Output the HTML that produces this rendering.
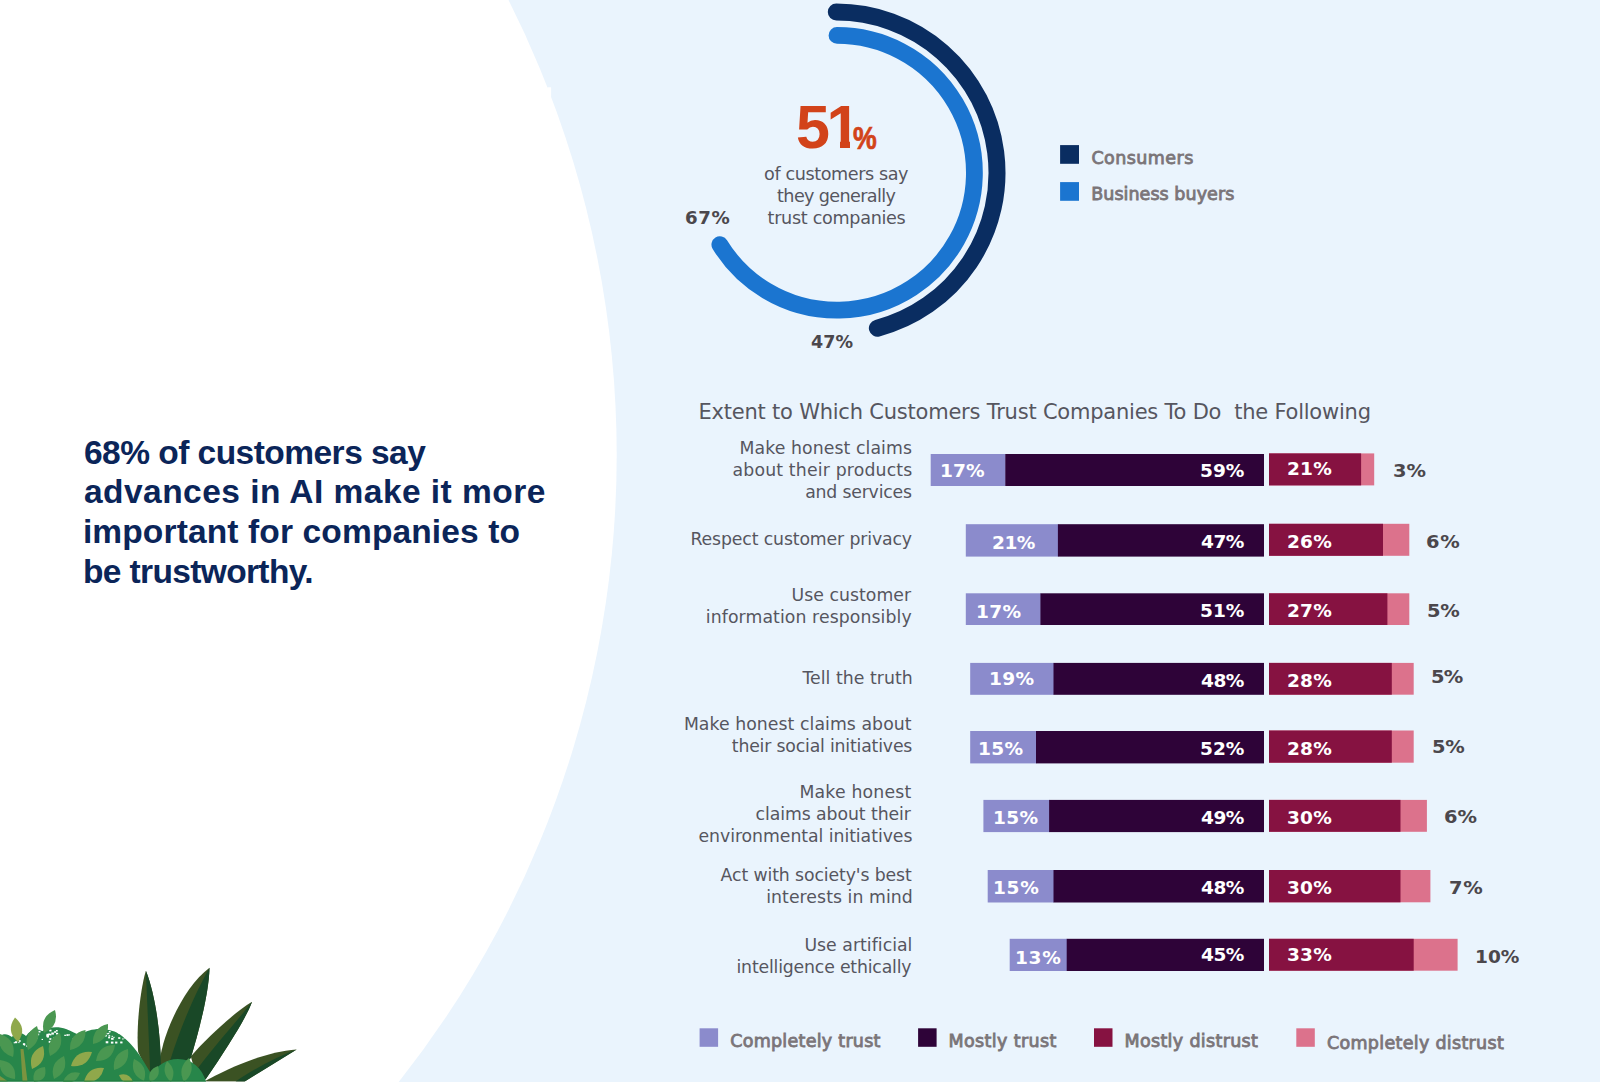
<!DOCTYPE html>
<html lang="en"><head><meta charset="utf-8"><title>Customer trust</title>
<style>
html,body{margin:0;padding:0}
body{width:1600px;height:1083px;position:relative;overflow:hidden;background:#eaf4fd;font-family:"Liberation Sans",sans-serif}
svg{position:absolute;left:0;top:0}
.t{position:absolute;white-space:pre;line-height:1;margin:0}
.d{font-family:"DejaVu Sans","Liberation Sans",sans-serif}
h1,section,footer{margin:0;padding:0;font:inherit;display:block}
h1 span{display:block}
</style></head><body>
<svg width="1600" height="1083" viewBox="0 0 1600 1083">
<circle cx="-394.1" cy="455" r="1010.8" fill="#fff"/>
<rect x="0" y="1082" width="1600" height="1" fill="#fff"/>
<rect x="547.3" y="87.3" width="3.8" height="9.6" fill="#fff"/>
<path d="M837.00 35.40 A137.4 137.4 0 1 1 719.85 244.59" fill="none" stroke="#1b75d0" stroke-width="16.8" stroke-linecap="round"/>
<path d="M836.30 12.10 A160.7 160.7 0 0 1 877.35 328.17" fill="none" stroke="#0a2d61" stroke-width="17" stroke-linecap="round"/>
<rect x="1060.1" y="145.1" width="18.9" height="18.7" fill="#0a2d61"/>
<rect x="1060.1" y="182.1" width="18.9" height="18.7" fill="#1b75d0"/>
<rect x="930.7" y="454" width="75.0" height="32.0" fill="#8b8bcc"/>
<rect x="1005.3" y="454" width="258.7" height="32.0" fill="#2e0338"/>
<rect x="1269" y="453.4" width="105.2" height="32.0" fill="#dc728c"/>
<rect x="1269" y="453.4" width="92.1" height="32.0" fill="#861241"/>
<rect x="965.8" y="524.2" width="92.6" height="32.4" fill="#8b8bcc"/>
<rect x="1057.9" y="524.2" width="206.1" height="32.4" fill="#2e0338"/>
<rect x="1269" y="523.8" width="140.3" height="32.0" fill="#dc728c"/>
<rect x="1269" y="523.8" width="114.0" height="32.0" fill="#861241"/>
<rect x="965.8" y="593.3" width="75.0" height="31.7" fill="#8b8bcc"/>
<rect x="1040.4" y="593.3" width="223.6" height="31.7" fill="#2e0338"/>
<rect x="1269" y="593.3" width="140.3" height="31.7" fill="#dc728c"/>
<rect x="1269" y="593.3" width="118.4" height="31.7" fill="#861241"/>
<rect x="970.2" y="662.9" width="83.8" height="31.9" fill="#8b8bcc"/>
<rect x="1053.5" y="662.9" width="210.5" height="31.9" fill="#2e0338"/>
<rect x="1269" y="662.9" width="144.7" height="31.8" fill="#dc728c"/>
<rect x="1269" y="662.9" width="122.8" height="31.8" fill="#861241"/>
<rect x="970.2" y="731" width="66.3" height="32.4" fill="#8b8bcc"/>
<rect x="1036.0" y="731" width="228.0" height="32.4" fill="#2e0338"/>
<rect x="1269" y="730.5" width="144.7" height="32.2" fill="#dc728c"/>
<rect x="1269" y="730.5" width="122.8" height="32.2" fill="#861241"/>
<rect x="983.4" y="799.9" width="66.3" height="32.2" fill="#8b8bcc"/>
<rect x="1049.1" y="799.9" width="214.9" height="32.2" fill="#2e0338"/>
<rect x="1269" y="799.9" width="157.9" height="31.9" fill="#dc728c"/>
<rect x="1269" y="799.9" width="131.5" height="31.9" fill="#861241"/>
<rect x="987.7" y="870" width="66.3" height="32.5" fill="#8b8bcc"/>
<rect x="1053.5" y="870" width="210.5" height="32.5" fill="#2e0338"/>
<rect x="1269" y="870.0" width="161.4" height="32.3" fill="#dc728c"/>
<rect x="1269" y="870.0" width="131.5" height="32.3" fill="#861241"/>
<rect x="1009.7" y="938.8" width="57.5" height="32.2" fill="#8b8bcc"/>
<rect x="1066.7" y="938.8" width="197.3" height="32.2" fill="#2e0338"/>
<rect x="1269" y="938.8" width="188.6" height="31.9" fill="#dc728c"/>
<rect x="1269" y="938.8" width="144.7" height="31.9" fill="#861241"/>
<rect x="699.6" y="1028.3" width="18.5" height="18.5" fill="#8b8bcc"/>
<rect x="918.1" y="1028.3" width="18.5" height="18.5" fill="#2e0338"/>
<rect x="1094" y="1028.3" width="18.5" height="18.5" fill="#861241"/>
<rect x="1296.3" y="1028.3" width="18.5" height="18.5" fill="#dc728c"/>
<clipPath id="pc"><rect x="0" y="900" width="320" height="181.8"/></clipPath><g clip-path="url(#pc)"><path d="M206 1080.5 C226 1070 262 1052 296.7 1049.5 L244.7 1081.5 L206 1081.5Z" fill="#3b5223"/>
<path d="M296.7 1049.5 C280 1056 262 1064 235.6 1081.5 L244.7 1081.5Z" fill="#194827"/>
<path d="M190.8 1056.5 C205 1040 232 1014 252.1 1001.8 C247 1016 228 1047 205.5 1079.5 L196 1075Z" fill="#3b5223"/>
<path d="M252.1 1001.8 C238 1020 216 1044 198 1068 L205.5 1079.5 C228 1047 247 1016 252.1 1001.8Z" fill="#194827"/>
<path d="M159 1068 C160 1040 182 988 209.5 967.7 C209 990 201 1024 190.8 1058 L175 1072Z" fill="#3b5223"/>
<path d="M209.5 967.7 C198 988 182 1022 169.7 1062 L175 1072 L190.8 1058 C201 1024 209 990 209.5 967.7Z" fill="#194827"/>
<path d="M145.9 970.8 C140 990 136 1030 138.2 1052 L150.4 1078 L161 1070 C161 1035 155.5 995 145.9 970.8Z" fill="#3b5223"/>
<path d="M145.9 970.8 C147 1000 149 1040 150.4 1078 L161 1070 C161 1035 155.5 995 145.9 970.8Z" fill="#194827"/>
<path d="M0 1036 C4 1033 8 1034 12 1037 C16 1031 22 1032 26 1036 C30 1030 36 1028 42 1031 C48 1027 58 1026 66 1029 C72 1031 76 1034 80 1035 C86 1031 92 1029 100 1029 C108 1029 116 1031 122 1036 C130 1042 138 1052 144 1062 C147 1067 150 1072 152 1075 C156 1066 166 1059 178 1059 C192 1059 202 1068 206 1081.5 L0 1081.5Z" fill="#27864a"/>
<rect x="38.4" y="1030.8" width="2.1" height="1.7" fill="#fff"/>
<rect x="30.3" y="1035.4" width="1.7" height="1.4" fill="#fff"/>
<rect x="29.9" y="1035.1" width="1.3" height="1.0" fill="#fff"/>
<rect x="41.9" y="1029.8" width="1.3" height="1.1" fill="#fff"/>
<rect x="41.6" y="1038.9" width="1.4" height="1.1" fill="#fff"/>
<rect x="35.1" y="1036.5" width="2.5" height="2.0" fill="#fff"/>
<rect x="46.5" y="1033.8" width="2.6" height="2.1" fill="#fff"/>
<rect x="29.5" y="1039.3" width="1.6" height="1.3" fill="#fff"/>
<rect x="32.6" y="1030.4" width="1.6" height="1.3" fill="#fff"/>
<rect x="54.1" y="1031.2" width="2.0" height="1.6" fill="#fff"/>
<rect x="48.4" y="1033.5" width="2.0" height="1.6" fill="#fff"/>
<rect x="30.0" y="1029.7" width="1.5" height="1.2" fill="#fff"/>
<rect x="49.8" y="1034.1" width="1.6" height="1.3" fill="#fff"/>
<rect x="46.7" y="1034.4" width="1.6" height="1.3" fill="#fff"/>
<rect x="53.4" y="1037.4" width="1.5" height="1.2" fill="#fff"/>
<rect x="46.4" y="1035.3" width="2.4" height="1.9" fill="#fff"/>
<rect x="51.3" y="1032.5" width="2.6" height="2.1" fill="#fff"/>
<rect x="31.8" y="1034.0" width="2.3" height="1.8" fill="#fff"/>
<rect x="32.9" y="1034.9" width="1.3" height="1.0" fill="#fff"/>
<rect x="49.4" y="1038.2" width="2.0" height="1.6" fill="#fff"/>
<rect x="56.0" y="1032.8" width="2.2" height="1.7" fill="#fff"/>
<rect x="47.0" y="1036.0" width="1.8" height="1.5" fill="#fff"/>
<rect x="54.9" y="1040.3" width="1.9" height="1.5" fill="#fff"/>
<rect x="49.3" y="1029.7" width="2.2" height="1.7" fill="#fff"/>
<rect x="48.7" y="1040.9" width="2.4" height="1.9" fill="#fff"/>
<rect x="37.1" y="1033.6" width="2.1" height="1.7" fill="#fff"/>
<rect x="28.7" y="1034.5" width="1.4" height="1.1" fill="#fff"/>
<rect x="31.7" y="1029.7" width="2.3" height="1.8" fill="#fff"/>
<rect x="32.1" y="1032.0" width="1.7" height="1.4" fill="#fff"/>
<rect x="55.9" y="1030.0" width="1.8" height="1.5" fill="#fff"/>
<rect x="115.1" y="1041.6" width="2.3" height="1.9" fill="#fff"/>
<rect x="122.0" y="1034.3" width="1.8" height="1.4" fill="#fff"/>
<rect x="110.9" y="1041.6" width="2.5" height="2.0" fill="#fff"/>
<rect x="106.3" y="1033.1" width="1.5" height="1.2" fill="#fff"/>
<rect x="108.1" y="1036.8" width="2.0" height="1.6" fill="#fff"/>
<rect x="108.8" y="1031.0" width="1.8" height="1.4" fill="#fff"/>
<rect x="111.1" y="1037.8" width="2.5" height="2.0" fill="#fff"/>
<rect x="118.2" y="1037.2" width="2.1" height="1.7" fill="#fff"/>
<rect x="117.9" y="1031.6" width="2.5" height="2.0" fill="#fff"/>
<rect x="120.2" y="1041.5" width="2.3" height="1.9" fill="#fff"/>
<rect x="111.6" y="1035.8" width="1.3" height="1.1" fill="#fff"/>
<rect x="117.0" y="1031.7" width="1.3" height="1.0" fill="#fff"/>
<rect x="107.6" y="1032.9" width="1.7" height="1.3" fill="#fff"/>
<rect x="104.2" y="1031.0" width="1.4" height="1.1" fill="#fff"/>
<rect x="105.2" y="1035.4" width="1.2" height="1.0" fill="#fff"/>
<rect x="122.2" y="1038.4" width="1.4" height="1.1" fill="#fff"/>
<rect x="108.5" y="1035.2" width="1.7" height="1.4" fill="#fff"/>
<rect x="105.7" y="1041.2" width="2.6" height="2.1" fill="#fff"/>
<rect x="113.3" y="1036.8" width="1.3" height="1.1" fill="#fff"/>
<rect x="105.2" y="1035.1" width="1.6" height="1.3" fill="#fff"/>
<rect x="121.2" y="1032.9" width="1.2" height="1.0" fill="#fff"/>
<rect x="123.9" y="1037.3" width="1.4" height="1.1" fill="#fff"/>
<rect x="18.8" y="1040.2" width="1.9" height="1.6" fill="#fff"/>
<rect x="26.6" y="1045.2" width="2.2" height="1.7" fill="#fff"/>
<rect x="13.7" y="1042.2" width="1.4" height="1.1" fill="#fff"/>
<rect x="22.9" y="1043.2" width="2.3" height="1.8" fill="#fff"/>
<rect x="14.9" y="1041.3" width="2.3" height="1.9" fill="#fff"/>
<rect x="26.7" y="1045.1" width="2.3" height="1.9" fill="#fff"/>
<rect x="23.7" y="1044.4" width="1.5" height="1.2" fill="#fff"/>
<rect x="18.3" y="1042.1" width="1.2" height="1.0" fill="#fff"/>
<rect x="64.3" y="1034.7" width="1.6" height="1.3" fill="#fff"/>
<rect x="72.3" y="1038.7" width="1.8" height="1.5" fill="#fff"/>
<rect x="75.2" y="1038.9" width="2.5" height="2.0" fill="#fff"/>
<rect x="68.4" y="1034.3" width="1.5" height="1.2" fill="#fff"/>
<rect x="66.4" y="1034.2" width="2.1" height="1.7" fill="#fff"/>
<path d="M20.5 1049 L23.5 1049 L27.5 1081.5 L22.5 1081.5Z" fill="#7c9440"/>
<path d="M0 1076 L8 1081.5 L0 1081.5Z" fill="#7c9440"/>
<path d="M44.0 1033.0Q59.4 1026.3 55.0 1010.0Q39.6 1016.7 44.0 1033.0Z" fill="#4a9751"/>
<path d="M28.0 1050.0Q42.5 1041.7 37.0 1026.0Q22.5 1034.3 28.0 1050.0Z" fill="#4a9751"/>
<path d="M13.0 1057.0Q16.9 1039.6 0.0 1034.0Q-3.9 1051.4 13.0 1057.0Z" fill="#4a9751"/>
<path d="M50.0 1056.0Q65.1 1048.9 60.0 1033.0Q44.9 1040.1 50.0 1056.0Z" fill="#4a9751"/>
<path d="M70.0 1050.0Q86.2 1046.5 85.5 1030.0Q69.3 1033.5 70.0 1050.0Z" fill="#4a9751"/>
<path d="M93.0 1044.0Q109.0 1040.4 108.0 1024.0Q92.0 1027.6 93.0 1044.0Z" fill="#4a9751"/>
<path d="M96.0 1061.0Q112.6 1061.4 115.0 1045.0Q98.4 1044.6 96.0 1061.0Z" fill="#4a9751"/>
<path d="M114.0 1070.0Q130.2 1065.6 128.0 1049.0Q111.8 1053.4 114.0 1070.0Z" fill="#4a9751"/>
<path d="M54.0 1079.0Q69.1 1071.9 64.0 1056.0Q48.9 1063.1 54.0 1079.0Z" fill="#4a9751"/>
<path d="M15.0 1079.0Q16.9 1062.1 0.0 1060.0Q-1.9 1076.9 15.0 1079.0Z" fill="#4a9751"/>
<path d="M34.0 1082.0Q48.1 1080.8 45.0 1067.0Q30.9 1068.2 34.0 1082.0Z" fill="#4a9751"/>
<path d="M144.0 1081.0Q148.7 1065.6 134.0 1059.0Q129.3 1074.4 144.0 1081.0Z" fill="#4a9751"/>
<path d="M63.0 1082.0Q75.5 1085.1 80.0 1073.0Q67.5 1069.9 63.0 1082.0Z" fill="#4a9751"/>
<path d="M150.0 1082.0Q161.6 1077.8 158.0 1066.0Q146.4 1070.2 150.0 1082.0Z" fill="#4a9751"/>
<path d="M18.0 1042.0Q27.8 1028.4 15.0 1017.5Q5.2 1031.1 18.0 1042.0Z" fill="#8fa84b"/>
<path d="M32.0 1069.0Q47.8 1062.4 43.0 1046.0Q27.2 1052.6 32.0 1069.0Z" fill="#8fa84b"/>
<path d="M71.0 1066.0Q87.4 1067.9 92.0 1052.0Q75.6 1050.1 71.0 1066.0Z" fill="#8fa84b"/>
<path d="M84.0 1082.0Q100.1 1083.7 104.0 1068.0Q87.9 1066.3 84.0 1082.0Z" fill="#8fa84b"/>
<path d="M133.0 1082.0Q129.3 1071.9 119.0 1075.0Q122.7 1085.1 133.0 1082.0Z" fill="#8fa84b"/>
<path d="M142.0 1080.0Q138.2 1069.4 134.0 1059.0Q137.8 1069.6 142.0 1080.0Z" fill="#4a9751"/>
<path d="M171.0 1082.0Q177.4 1069.9 167.0 1061.0Q160.6 1073.1 171.0 1082.0Z" fill="#4a9751"/>
<path d="M184.0 1082.0Q196.2 1072.0 189.0 1058.0Q176.8 1068.0 184.0 1082.0Z" fill="#4a9751"/>
<rect x="0" y="1080.6" width="206" height="1.2" fill="#1c7a3c"/></g>
</svg>
<h1 class="headline">
<span class="t" style="left:84.0px;top:436px;font-size:33.5px;color:#0b2559;font-weight:700;letter-spacing:-0.53px;">68% of customers say</span>
<span class="t" style="left:84.0px;top:475px;font-size:33.5px;color:#0b2559;font-weight:700;letter-spacing:0.46px;">advances in AI make it more</span>
<span class="t" style="left:82.9px;top:515px;font-size:33.5px;color:#0b2559;font-weight:700;letter-spacing:0.14px;">important for companies to</span>
<span class="t" style="left:83.0px;top:555px;font-size:33.5px;color:#0b2559;font-weight:700;letter-spacing:-0.64px;">be trustworthy.</span>
</h1>
<section class="donut">
<div class="t" style="left:796px;top:97px;font-size:61px;font-weight:700;color:#d2431a;letter-spacing:-3.5px;clip-path:polygon(0 0,70px 0,70px 44px,54px 44px,54px 61px,44px 61px,44px 44px,34px 44px,34px 61px,0 61px)">51</div>
<div class="t" style="left:853.4px;top:123px;font-size:31px;color:#d2431a;font-weight:700;-webkit-text-stroke:0.7px #d2431a;transform:scaleX(0.86);transform-origin:0 0;">%</div>
<div class="t d" style="left:764.1px;top:166px;font-size:17.6px;color:#56565f;letter-spacing:-0.41px;">of customers say</div>
<div class="t d" style="left:777.1px;top:188px;font-size:17.6px;color:#56565f;letter-spacing:-0.63px;">they generally</div>
<div class="t d" style="left:767.6px;top:210px;font-size:17.6px;color:#56565f;letter-spacing:-0.31px;">trust companies</div>
<div class="t d" style="left:685.0px;top:210px;font-size:17px;color:#4b474c;font-weight:700;letter-spacing:0.6px;transform:scaleX(1.07);transform-origin:0 0;">67%</div>
<div class="t d" style="left:811.3px;top:334px;font-size:17px;color:#4b474c;font-weight:700;letter-spacing:0.1px;transform:scaleX(1.03);transform-origin:0 0;">47%</div>
<div class="t d" style="left:1091.4px;top:150px;font-size:17.5px;color:#7b7579;letter-spacing:0.45px;-webkit-text-stroke:0.85px #7b7579;">Consumers</div>
<div class="t d" style="left:1091.2px;top:186px;font-size:17.5px;color:#7b7579;letter-spacing:0.05px;-webkit-text-stroke:0.85px #7b7579;">Business buyers</div>
</section>
<section class="chart">
<div class="t d" style="left:698.5px;top:402px;font-size:21px;color:#56565f;letter-spacing:-0.22px;">Extent to Which Customers Trust Companies To Do  the Following</div>
<div class="t d" style="left:739.6px;top:440px;font-size:17.3px;color:#56565f;letter-spacing:0.08px;">Make honest claims</div>
<div class="t d" style="left:732.5px;top:462px;font-size:17.3px;color:#56565f;letter-spacing:0.17px;">about their products</div>
<div class="t d" style="left:805.2px;top:484px;font-size:17.3px;color:#56565f;letter-spacing:-0.19px;">and services</div>
<div class="t d" style="left:690.5px;top:531px;font-size:17.3px;color:#56565f;letter-spacing:-0.13px;">Respect customer privacy</div>
<div class="t d" style="left:791.6px;top:587px;font-size:17.3px;color:#56565f;letter-spacing:0.03px;">Use customer</div>
<div class="t d" style="left:705.8px;top:609px;font-size:17.3px;color:#56565f;letter-spacing:0.09px;">information responsibly</div>
<div class="t d" style="left:802.4px;top:670px;font-size:17.3px;color:#56565f;letter-spacing:0.04px;">Tell the truth</div>
<div class="t d" style="left:683.9px;top:716px;font-size:17.3px;color:#56565f;letter-spacing:0.06px;">Make honest claims about</div>
<div class="t d" style="left:731.8px;top:738px;font-size:17.3px;color:#56565f;letter-spacing:-0.18px;">their social initiatives</div>
<div class="t d" style="left:799.5px;top:784px;font-size:17.3px;color:#56565f;letter-spacing:0.18px;">Make honest</div>
<div class="t d" style="left:755.6px;top:806px;font-size:17.3px;color:#56565f;letter-spacing:-0.08px;">claims about their</div>
<div class="t d" style="left:698.5px;top:828px;font-size:17.3px;color:#56565f;letter-spacing:-0.05px;">environmental initiatives</div>
<div class="t d" style="left:720.6px;top:867px;font-size:17.3px;color:#56565f;letter-spacing:-0.11px;">Act with society's best</div>
<div class="t d" style="left:766.2px;top:889px;font-size:17.3px;color:#56565f;letter-spacing:0.06px;">interests in mind</div>
<div class="t d" style="left:804.4px;top:937px;font-size:17.3px;color:#56565f;letter-spacing:0.03px;">Use artificial</div>
<div class="t d" style="left:736.5px;top:959px;font-size:17.3px;color:#56565f;letter-spacing:-0.18px;">intelligence ethically</div>
<div class="t d" style="left:940.3px;top:462px;font-size:18px;color:#fff;font-weight:700;letter-spacing:0.1px;transform:scaleX(1.03);transform-origin:0 0;">17%</div>
<div class="t d" style="left:1199.8px;top:462px;font-size:18px;color:#fff;font-weight:700;transform:scaleX(1.03);transform-origin:0 0;">59%</div>
<div class="t d" style="left:1287.2px;top:460px;font-size:18px;color:#fff;font-weight:700;letter-spacing:0.2px;transform:scaleX(1.03);transform-origin:0 0;">21%</div>
<div class="t d" style="left:1392.8px;top:462px;font-size:18px;color:#4b474c;font-weight:700;transform:scaleX(1.08);transform-origin:0 0;">3%</div>
<div class="t d" style="left:992.4px;top:534px;font-size:18px;color:#fff;font-weight:700;letter-spacing:-0.5px;transform:scaleX(1.03);transform-origin:0 0;">21%</div>
<div class="t d" style="left:1200.8px;top:533px;font-size:18px;color:#fff;font-weight:700;letter-spacing:-0.5px;transform:scaleX(1.03);transform-origin:0 0;">47%</div>
<div class="t d" style="left:1287.2px;top:533px;font-size:18px;color:#fff;font-weight:700;letter-spacing:0.2px;transform:scaleX(1.03);transform-origin:0 0;">26%</div>
<div class="t d" style="left:1426.4px;top:533px;font-size:18px;color:#4b474c;font-weight:700;letter-spacing:0.6px;transform:scaleX(1.08);transform-origin:0 0;">6%</div>
<div class="t d" style="left:975.5px;top:603px;font-size:18px;color:#fff;font-weight:700;letter-spacing:0.3px;transform:scaleX(1.03);transform-origin:0 0;">17%</div>
<div class="t d" style="left:1199.8px;top:602px;font-size:18px;color:#fff;font-weight:700;transform:scaleX(1.03);transform-origin:0 0;">51%</div>
<div class="t d" style="left:1287.2px;top:602px;font-size:18px;color:#fff;font-weight:700;letter-spacing:0.2px;transform:scaleX(1.03);transform-origin:0 0;">27%</div>
<div class="t d" style="left:1426.8px;top:602px;font-size:18px;color:#4b474c;font-weight:700;letter-spacing:-0.2px;transform:scaleX(1.08);transform-origin:0 0;">5%</div>
<div class="t d" style="left:989.3px;top:670px;font-size:18px;color:#fff;font-weight:700;letter-spacing:0.4px;transform:scaleX(1.03);transform-origin:0 0;">19%</div>
<div class="t d" style="left:1200.8px;top:672px;font-size:18px;color:#fff;font-weight:700;letter-spacing:-0.5px;transform:scaleX(1.03);transform-origin:0 0;">48%</div>
<div class="t d" style="left:1287.2px;top:672px;font-size:18px;color:#fff;font-weight:700;letter-spacing:0.2px;transform:scaleX(1.03);transform-origin:0 0;">28%</div>
<div class="t d" style="left:1430.8px;top:668px;font-size:18px;color:#4b474c;font-weight:700;letter-spacing:-0.8px;transform:scaleX(1.08);transform-origin:0 0;">5%</div>
<div class="t d" style="left:978.0px;top:740px;font-size:18px;color:#fff;font-weight:700;letter-spacing:0.4px;transform:scaleX(1.03);transform-origin:0 0;">15%</div>
<div class="t d" style="left:1199.8px;top:740px;font-size:18px;color:#fff;font-weight:700;transform:scaleX(1.03);transform-origin:0 0;">52%</div>
<div class="t d" style="left:1287.2px;top:740px;font-size:18px;color:#fff;font-weight:700;letter-spacing:0.2px;transform:scaleX(1.03);transform-origin:0 0;">28%</div>
<div class="t d" style="left:1432.4px;top:738px;font-size:18px;color:#4b474c;font-weight:700;letter-spacing:-0.2px;transform:scaleX(1.08);transform-origin:0 0;">5%</div>
<div class="t d" style="left:993.0px;top:809px;font-size:18px;color:#fff;font-weight:700;letter-spacing:0.4px;transform:scaleX(1.03);transform-origin:0 0;">15%</div>
<div class="t d" style="left:1200.8px;top:809px;font-size:18px;color:#fff;font-weight:700;letter-spacing:-0.5px;transform:scaleX(1.03);transform-origin:0 0;">49%</div>
<div class="t d" style="left:1287.2px;top:809px;font-size:18px;color:#fff;font-weight:700;letter-spacing:0.2px;transform:scaleX(1.03);transform-origin:0 0;">30%</div>
<div class="t d" style="left:1444.2px;top:808px;font-size:18px;color:#4b474c;font-weight:700;transform:scaleX(1.08);transform-origin:0 0;">6%</div>
<div class="t d" style="left:993.3px;top:879px;font-size:18px;color:#fff;font-weight:700;letter-spacing:0.7px;transform:scaleX(1.03);transform-origin:0 0;">15%</div>
<div class="t d" style="left:1200.8px;top:879px;font-size:18px;color:#fff;font-weight:700;letter-spacing:-0.5px;transform:scaleX(1.03);transform-origin:0 0;">48%</div>
<div class="t d" style="left:1287.2px;top:879px;font-size:18px;color:#fff;font-weight:700;letter-spacing:0.2px;transform:scaleX(1.03);transform-origin:0 0;">30%</div>
<div class="t d" style="left:1449.1px;top:879px;font-size:18px;color:#4b474c;font-weight:700;letter-spacing:0.6px;transform:scaleX(1.08);transform-origin:0 0;">7%</div>
<div class="t d" style="left:1014.9px;top:949px;font-size:18px;color:#fff;font-weight:700;letter-spacing:0.7px;transform:scaleX(1.03);transform-origin:0 0;">13%</div>
<div class="t d" style="left:1200.8px;top:946px;font-size:18px;color:#fff;font-weight:700;letter-spacing:-0.5px;transform:scaleX(1.03);transform-origin:0 0;">45%</div>
<div class="t d" style="left:1287.2px;top:946px;font-size:18px;color:#fff;font-weight:700;letter-spacing:0.2px;transform:scaleX(1.03);transform-origin:0 0;">33%</div>
<div class="t d" style="left:1475.0px;top:948px;font-size:18px;color:#4b474c;font-weight:700;transform:scaleX(1.03);transform-origin:0 0;">10%</div>
</section>
<footer class="legend">
<div class="t d" style="left:730.2px;top:1033px;font-size:17.5px;color:#7b7579;letter-spacing:0.27px;-webkit-text-stroke:0.85px #7b7579;">Completely trust</div>
<div class="t d" style="left:948.4px;top:1033px;font-size:17.5px;color:#7b7579;letter-spacing:0.4px;-webkit-text-stroke:0.85px #7b7579;">Mostly trust</div>
<div class="t d" style="left:1124.5px;top:1033px;font-size:17.5px;color:#7b7579;letter-spacing:0.33px;-webkit-text-stroke:0.85px #7b7579;">Mostly distrust</div>
<div class="t d" style="left:1326.9px;top:1035px;font-size:17.5px;color:#7b7579;letter-spacing:0.31px;-webkit-text-stroke:0.85px #7b7579;">Completely distrust</div>
</footer>
</body></html>
